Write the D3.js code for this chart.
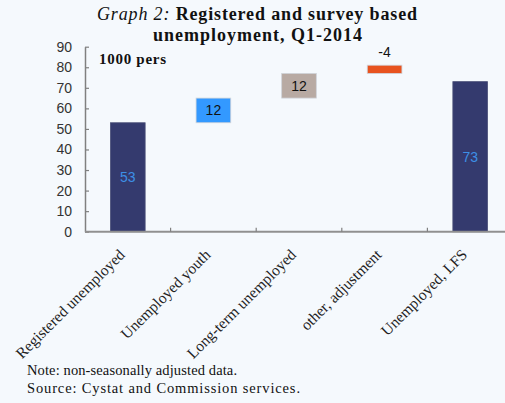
<!DOCTYPE html>
<html><head><meta charset="utf-8">
<script src="https://cdn.jsdelivr.net/npm/d3@7"></script>
<style>
html,body{margin:0;padding:0;background:#f5f9fd;}
svg{display:block;}
</style></head>
<body>
<svg id="c" width="505" height="403"></svg>
<script>
const categories = ["Registered unemployed","Unemployed youth","Long-term unemployed","other, adjustment","Unemployed, LFS"];
const values = [53, 12, 12, -4, 73];
const bases = [0, 53, 65, 77, 0];
const barColors = ["#343a6e", "#3399ff", "#b8aaa3", "#e8531f", "#343a6e"];
const labelColors = ["#3d8fe6", "#111111", "#111111", "#111111", "#3d8fe6"];
const yTicks = [0,10,20,30,40,50,60,70,80,90];

const svg = d3.select("#c");
svg.append("rect").attr("width",505).attr("height",403).attr("fill","#f5f9fd");

const x = d3.scaleBand().domain(categories).range([85, 513]).padding(0);
const y = d3.scaleLinear().domain([0, 90]).range([231.7, 46.7]);
const bw = x.bandwidth() * 0.405;

// title
const t1 = svg.append("text").attr("x", 97).attr("y", 20)
  .attr("textLength", 320).attr("lengthAdjust","spacing")
  .style("font-family","'Liberation Serif', serif").style("font-size","18px").attr("fill","#111");
t1.append("tspan").style("font-style","italic").text("Graph 2: ");
t1.append("tspan").style("font-weight","bold").text("Registered and survey based");
svg.append("text").attr("x", 153).attr("y", 41)
  .attr("textLength", 209).attr("lengthAdjust","spacing")
  .style("font-family","'Liberation Serif', serif").style("font-size","18px").style("font-weight","bold")
  .attr("fill","#111").text("unemployment, Q1-2014");

// unit
svg.append("text").attr("x", 99).attr("y", 64)
  .attr("textLength", 67).attr("lengthAdjust","spacing")
  .style("font-family","'Liberation Serif', serif").style("font-size","15px").style("font-weight","bold")
  .attr("fill","#111").text("1000 pers");

// bars
const g = svg.append("g");
categories.forEach((c, i) => {
  const v0 = bases[i], v1 = bases[i] + Math.abs(values[i]);
  g.append("rect")
    .attr("x", x(c) + x.bandwidth()/2 - bw/2)
    .attr("y", y(v1))
    .attr("width", bw)
    .attr("height", y(v0) - y(v1))
    .attr("fill", barColors[i])
    .attr("stroke", i === 0 || i === 4 ? "#4a4f78" : "#d0d4da")
    .attr("stroke-width", 0.8);
  const ly = i === 3 ? y(v1) - 8 : (y(v0) + y(v1)) / 2 + 5;
  g.append("text")
    .attr("x", x(c) + x.bandwidth()/2)
    .attr("y", ly)
    .attr("text-anchor","middle")
    .style("font-family","'Liberation Sans', sans-serif").style("font-size","14px")
    .attr("fill", labelColors[i])
    .text(values[i]);
});

// y axis
const yAxis = d3.axisLeft(y).tickValues(yTicks).tickSize(-4).tickPadding(13).tickSizeOuter(0);
const ya = svg.append("g").attr("transform","translate(85,0)").call(yAxis);
ya.select(".domain").attr("stroke","#808080").attr("stroke-width",1.5);
ya.selectAll(".tick line").attr("stroke","#808080").attr("stroke-width",1.2);
ya.selectAll(".tick text").style("font-family","'Liberation Sans', sans-serif").style("font-size","14px").attr("fill","#333");

// x axis
const xa = svg.append("g").attr("transform","translate(0," + y(0) + ")");
xa.append("line").attr("x1",85).attr("x2",513).attr("y1",0).attr("y2",0)
  .attr("stroke","#909090").attr("stroke-width",2);
categories.forEach((c, i) => {
  if (i > 0) xa.append("line").attr("x1", x(c)).attr("x2", x(c)).attr("y1", 0).attr("y2", -4)
    .attr("stroke","#808080").attr("stroke-width",1.2);
  xa.append("text")
    .attr("transform", "translate(" + (x(c) + x.bandwidth()/2 - 2) + ",24) rotate(-45)")
    .attr("text-anchor","end")
    .style("font-family","'Liberation Serif', serif").style("font-size","15.5px")
    .attr("fill","#222").text(c);
});

// notes
const notes = ["Note: non-seasonally adjusted data.", "Source: Cystat and Commission services."];
const noteLens = [210, 273];
notes.forEach((n, i) => {
  svg.append("text").attr("x", 27).attr("y", 375 + i*18)
    .attr("textLength", noteLens[i]).attr("lengthAdjust","spacing")
    .style("font-family","'Liberation Serif', serif").style("font-size","14.5px")
    .attr("fill","#111").text(n);
});
</script>
</body></html>
